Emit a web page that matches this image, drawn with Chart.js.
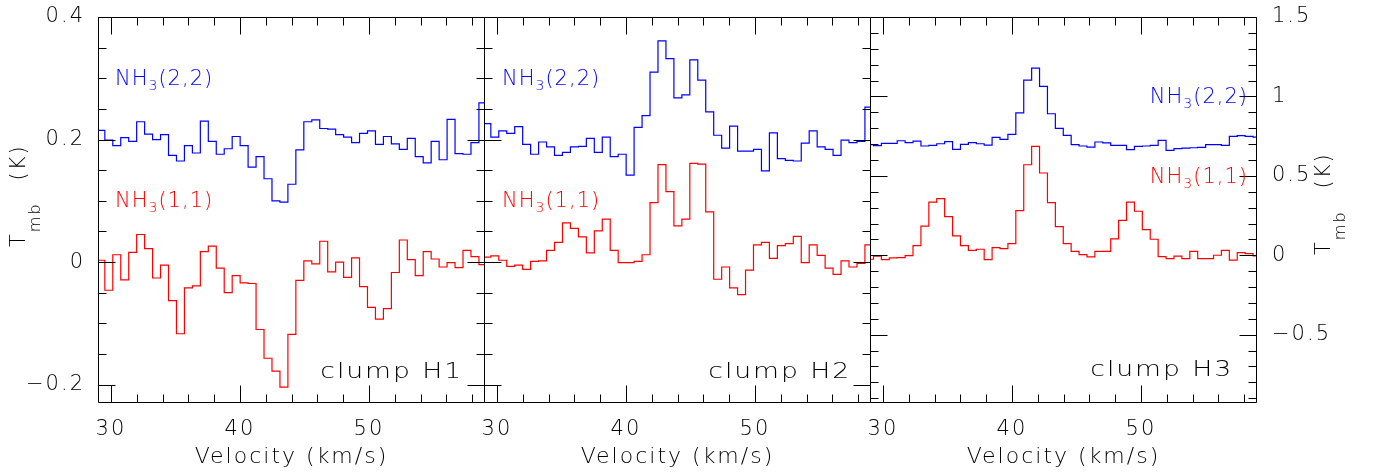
<!DOCTYPE html>
<html>
<head>
<meta charset="utf-8">
<script src="https://cdn.jsdelivr.net/npm/chart.js@4.4.1/dist/chart.umd.min.js"></script>
<style>
  body { margin: 0; background: #fff; }
  #wrap { position: relative; width: 1379px; height: 475px; }
  #wrap canvas { position: absolute; left: 0; top: 0; }
</style>
</head>
<body>
<div id="wrap">
  <canvas id="h1" width="1379" height="475"></canvas>
  <canvas id="h2" width="1379" height="475"></canvas>
  <canvas id="h3" width="1379" height="475"></canvas>
</div>
<script>
// velocity axis (km/s)
const velRange = [29, 59];
const velTicks = [30, 40, 50];
const velMinor = 2, velMajor = 10;

// channel grid: left edge of first channel, channel width
const h12Start = 28.913, h12Step = 0.617;
const h3Start = 28.657, h3Step = 0.613;

// T_mb (K) per channel
const h1_22 = [0.215, 0.199, 0.190, 0.203, 0.197, 0.229, 0.209, 0.200, 0.208, 0.174,
               0.165, 0.190, 0.178, 0.230, 0.197, 0.176, 0.185, 0.205, 0.190, 0.155,
               0.172, 0.136, 0.100, 0.098, 0.127, 0.183, 0.229, 0.232, 0.218, 0.217,
               0.208, 0.204, 0.195, 0.210, 0.214, 0.192, 0.205, 0.193, 0.184, 0.202,
               0.172, 0.162, 0.197, 0.167, 0.233, 0.177, 0.176, 0.195, 0.260];
const h1_11 = [0.003, -0.046, 0.012, -0.029, 0.016, 0.045, 0.022, -0.026, -0.005, -0.063,
               -0.117, -0.042, -0.039, 0.017, 0.026, -0.010, -0.050, -0.022, -0.034, -0.035,
               -0.110, -0.157, -0.178, -0.204, -0.118, -0.030, 0.002, -0.003, 0.034, -0.016,
               0.000, -0.025, 0.007, -0.040, -0.074, -0.093, -0.076, -0.017, 0.036, 0.004,
               -0.022, 0.017, 0.005, -0.008, -0.001, -0.009, 0.019, 0.009, -0.004];
const h2_22 = [0.226, 0.204, 0.214, 0.210, 0.221, 0.192, 0.176, 0.196, 0.188, 0.174,
               0.179, 0.188, 0.189, 0.202, 0.179, 0.204, 0.172, 0.176, 0.142, 0.220,
               0.239, 0.310, 0.361, 0.332, 0.268, 0.273, 0.330, 0.297, 0.245, 0.207,
               0.186, 0.222, 0.181, 0.181, 0.184, 0.149, 0.211, 0.169, 0.166, 0.165,
               0.194, 0.214, 0.188, 0.184, 0.174, 0.199, 0.195, 0.197, 0.253];
const h2_11 = [0.008, 0.010, 0.003, -0.007, -0.005, -0.012, 0.001, 0.002, 0.019, 0.032,
               0.064, 0.055, 0.041, 0.015, 0.051, 0.070, 0.019, -0.001, -0.001, 0.001,
               0.012, 0.097, 0.159, 0.115, 0.059, 0.070, 0.161, 0.160, 0.082, -0.028,
               -0.008, -0.042, -0.053, -0.013, 0.028, 0.032, 0.006, 0.027, 0.030, 0.042,
               -0.001, 0.028, 0.011, -0.010, -0.020, 0.002, -0.008, -0.002, 0.028];
const h3_22 = [0.696, 0.690, 0.704, 0.704, 0.721, 0.709, 0.719, 0.688, 0.692, 0.702,
               0.715, 0.667, 0.698, 0.709, 0.702, 0.694, 0.742, 0.730, 0.761, 0.897,
               1.103, 1.178, 1.063, 0.891, 0.799, 0.755, 0.696, 0.688, 0.681, 0.713,
               0.707, 0.692, 0.692, 0.665, 0.686, 0.688, 0.692, 0.723, 0.660, 0.671,
               0.675, 0.677, 0.679, 0.696, 0.696, 0.692, 0.748, 0.753, 0.748, 0.744];
const h3_11 = [-0.025, -0.006, -0.027, -0.017, -0.015, -0.002, 0.061, 0.184, 0.335, 0.356,
               0.243, 0.122, 0.061, 0.031, 0.038, -0.027, 0.048, 0.042, 0.073, 0.281,
               0.570, 0.686, 0.518, 0.331, 0.180, 0.073, 0.025, 0.004, -0.010, 0.025,
               0.025, 0.103, 0.220, 0.335, 0.277, 0.161, 0.101, -0.008, -0.021, -0.006,
               -0.021, 0.025, -0.021, -0.021, 0.000, 0.031, -0.031, 0.017, 0.010, -0.004];

// T_mb axes: H1/H2 share the left scale, H3 uses the right one
const tmbLeftRange = [-0.23, 0.4];
const tmbLeftTicks = [-0.2, 0, 0.2, 0.4];
const tmbRightRange = [-0.93, 1.5];
const tmbRightTicks = [-0.5, 0, 0.5, 1, 1.5];

const clumpNames = ['clump H1', 'clump H2', 'clump H3'];

const FONT = 'DejaVu Sans';
const WEIGHT = 200;
const BLUE = '#0000ff', RED = '#ff0000';

// histogram points: one per channel edge, plus a closing edge
function steps(start, step, temps) {
  const pts = temps.map((t, i) => ({ x: start + i * step, y: t }));
  pts.push({ x: start + temps.length * step, y: temps[temps.length - 1] });
  return pts;
}

function fmtTmb(v) {
  const r = Math.round(v * 100) / 100;
  return r < 0 ? '\u2212' + Math.abs(r) : String(r);
}

// text made of pieces (subscripts), optionally rotated / widened
function drawRich(ctx, parts, x, y, opt) {
  ctx.save();
  ctx.translate(x, y);
  if (opt.rotate) ctx.rotate(opt.rotate);
  if (opt.sx) ctx.scale(opt.sx, 1);
  ctx.fillStyle = opt.color || '#000';
  ctx.textAlign = 'left';
  ctx.textBaseline = 'alphabetic';
  ctx.letterSpacing = (opt.spacing || 0) + 'px';
  const font = p => WEIGHT + ' ' + (p.size || 21) + 'px "' + FONT + '"';
  let w = 0;
  for (const p of parts) { ctx.font = font(p); w += (p.gap || 0) + ctx.measureText(p.t).width; }
  let cx = opt.align === 'right' ? -w : 0;
  for (const p of parts) {
    ctx.font = font(p);
    cx += p.gap || 0;
    ctx.fillText(p.t, cx, p.dy || 0);
    cx += ctx.measureText(p.t).width;
  }
  ctx.restore();
}

const nh3 = q => [{ t: 'NH' }, { t: '3', size: 14, dy: 5 }, { t: q }];
const tmbTitle = [{ t: 'T' }, { t: 'mb', size: 16, dy: 15 }, { t: '(K)', gap: 22 }];

function makePanel(id, p) {
  const frame = {
    id: 'frame',
    beforeDraw(chart) { chart.ctx.letterSpacing = '2px'; },
    afterDraw(chart) {
      const { ctx, chartArea: a } = chart;
      const xs = chart.scales.x, ys = chart.scales.y;
      ctx.save();
      ctx.letterSpacing = '0px';
      ctx.strokeStyle = '#000';
      ctx.lineWidth = 1;
      const L = Math.round(a.left) + 0.5, R = Math.round(a.right) - 0.5;
      const T = Math.round(a.top) + 0.5, B = Math.round(a.bottom) - 0.5;
      ctx.beginPath();
      ctx.rect(L, T, R - L, B - T);
      // inward ticks, velocity
      for (let v = Math.ceil(xs.min / velMinor) * velMinor; v <= xs.max; v += velMinor) {
        const px = Math.round(xs.getPixelForValue(v)) + 0.5;
        const len = v % velMajor === 0 ? 17 : 8;
        ctx.moveTo(px, B); ctx.lineTo(px, B - len);
        ctx.moveTo(px, T); ctx.lineTo(px, T + len);
      }
      // inward ticks, T_mb
      const per = Math.round(p.major / p.minor);
      for (let n = Math.ceil(ys.min / p.minor - 1e-6); n * p.minor <= ys.max + 1e-6; n++) {
        const py = Math.round(ys.getPixelForValue(n * p.minor)) + 0.5;
        const len = n % per === 0 ? 17 : 8;
        ctx.moveTo(L, py); ctx.lineTo(L + len, py);
        ctx.moveTo(R, py); ctx.lineTo(R - len, py);
      }
      ctx.stroke();
      ctx.restore();
      p.texts.forEach(t => drawRich(ctx, t.parts, t.x, t.y, t));
    }
  };

  return new Chart(document.getElementById(id), {
    type: 'line',
    data: {
      datasets: [
        { label: 'NH3(1,1)', data: steps(p.start, p.step, p.t11), borderColor: RED },
        { label: 'NH3(2,2)', data: steps(p.start, p.step, p.t22), borderColor: BLUE }
      ].map(d => Object.assign(d, { borderWidth: 1.2, stepped: 'before', pointRadius: 0, fill: false, tension: 0 }))
    },
    options: {
      responsive: false,
      animation: false,
      events: [],
      layout: { padding: p.pad },
      plugins: { legend: { display: false }, tooltip: { enabled: false } },
      scales: {
        x: {
          type: 'linear', min: velRange[0], max: velRange[1],
          grid: { display: false, drawTicks: false }, border: { display: false },
          afterBuildTicks: s => { s.ticks = velTicks.map(v => ({ value: v })); },
          ticks: { padding: 14, color: '#000', font: { family: FONT, size: 21, weight: WEIGHT }, maxRotation: 0, callback: v => String(v) },
          title: { display: true, text: 'Velocity (km/s)', color: '#000', font: { family: FONT, size: 22, weight: WEIGHT }, padding: { top: 0, bottom: 5 } },
          afterFit: s => { s.height = 72; s.paddingLeft = 0; s.paddingRight = 0; }
        },
        y: {
          type: 'linear', position: p.pos || 'left', display: !!p.pos,
          min: p.range[0], max: p.range[1],
          grid: { display: false, drawTicks: false }, border: { display: false },
          afterBuildTicks: s => { s.ticks = p.ticks.map(v => ({ value: v })); },
          ticks: { padding: p.pos === 'right' ? 15 : 13, color: '#000', font: { family: FONT, size: 21, weight: WEIGHT }, callback: fmtTmb },
          afterFit: s => { if (p.pos) s.width = p.axisWidth; s.paddingTop = 0; s.paddingBottom = 0; }
        }
      }
    },
    plugins: [frame]
  });
}

makePanel('h1', {
  start: h12Start, step: h12Step, t22: h1_22, t11: h1_11,
  range: tmbLeftRange, ticks: tmbLeftTicks, minor: 0.05, major: 0.2,
  pos: 'left', axisWidth: 98,
  pad: { left: 0, right: 894, top: 17, bottom: 0 },
  texts: [
    { parts: nh3('(2,2)'), x: 115, y: 85, color: BLUE, spacing: 1 },
    { parts: nh3('(1,1)'), x: 115, y: 207, color: RED, spacing: 1 },
    { parts: [{ t: clumpNames[0] }], x: 463, y: 378, align: 'right', spacing: 1.5, sx: 1.27 },
    { parts: tmbTitle, x: 25, y: 247, rotate: -Math.PI / 2, spacing: 2 }
  ]
});

makePanel('h2', {
  start: h12Start, step: h12Step, t22: h2_22, t11: h2_11,
  range: tmbLeftRange, ticks: tmbLeftTicks, minor: 0.05, major: 0.2,
  pos: null,
  pad: { left: 484, right: 508, top: 17, bottom: 0 },
  texts: [
    { parts: nh3('(2,2)'), x: 502, y: 85, color: BLUE, spacing: 1 },
    { parts: nh3('(1,1)'), x: 502, y: 207, color: RED, spacing: 1 },
    { parts: [{ t: clumpNames[1] }], x: 851, y: 378, align: 'right', spacing: 1.5, sx: 1.27 }
  ]
});

makePanel('h3', {
  start: h3Start, step: h3Step, t22: h3_22, t11: h3_11,
  range: tmbRightRange, ticks: tmbRightTicks, minor: 0.1, major: 0.5,
  pos: 'right', axisWidth: 122,
  pad: { left: 870, right: 0, top: 17, bottom: 0 },
  texts: [
    { parts: nh3('(2,2)'), x: 1248, y: 103, color: BLUE, spacing: 1, align: 'right' },
    { parts: nh3('(1,1)'), x: 1248, y: 183, color: RED, spacing: 1, align: 'right' },
    { parts: [{ t: clumpNames[2] }], x: 1233, y: 376, align: 'right', spacing: 1.5, sx: 1.27 },
    { parts: tmbTitle, x: 1330, y: 255, rotate: -Math.PI / 2, spacing: 2 }
  ]
});
</script>
</body>
</html>
